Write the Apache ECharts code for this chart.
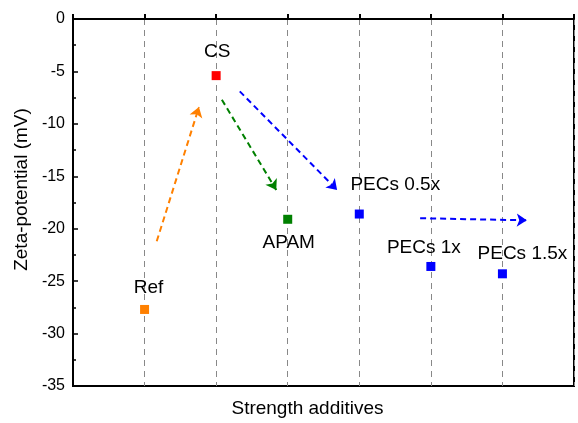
<!DOCTYPE html>
<html>
<head>
<meta charset="utf-8">
<script src="https://cdn.jsdelivr.net/npm/echarts@6/dist/echarts.min.js"></script>
<style>
  html, body { margin: 0; padding: 0; background: #fff; }
  #main { width: 578px; height: 423px; }
</style>
</head>
<body>
<div id="main"></div>
<script>
// 样品名称和位置（x 轴上的序号）
const samples = ['Ref', 'CS', 'APAM', 'PECs 0.5x', 'PECs 1x', 'PECs 1.5x'];
const positions = [1, 2, 3, 4, 5, 6];
// Zeta 电位 (mV)
const zeta = [-27.7, -5.4, -19.1, -18.6, -23.6, -24.3];
const yTicks = [0, -5, -10, -15, -20, -25, -30, -35];

// 箭头起点 / 终点（数据坐标）
const arrowFrom = [[1.17, -21.2], [2.08, -7.7], [2.33, -6.9], [4.85, -19.0]];
const arrowTo = [[1.76, -8.4], [2.84, -16.3], [3.69, -16.3], [6.34, -19.2]];

// 样式
const pointColors = ['#ff8000', '#ff0000', '#008000', '#0000ff', '#0000ff', '#0000ff'];
const arrowColors = ['#ff8000', '#008000', '#0000ff', '#0000ff'];
const labelPos = ['top', 'top', 'bottom', 'top', 'top', 'top'];
const labelOffset = [[4, -3], [1, -5], [1, 4], [36, -10], [-7, 0], [20, -1]];

const font = 'Liberation Sans, Arial, sans-serif';

let myChart = echarts.init(document.getElementById('main'));
myChart.setOption({
  animation: false,
  grid: {
    left: 73, right: 4, top: 19, bottom: 35,
    show: true,
    borderColor: '#000',
    borderWidth: 2
  },
  xAxis: {
    type: 'value',
    min: 0,
    max: 7,
    interval: 1,
    name: 'Strength additives',
    nameLocation: 'middle',
    nameGap: 13,
    nameTextStyle: { fontSize: 19, color: '#000', fontFamily: font, padding: [0, 32, 0, 0] },
    axisLine: { lineStyle: { color: '#000', width: 2 } },
    axisTick: { inside: true, length: 5, lineStyle: { color: '#000', width: 2 } },
    axisLabel: { show: false },
    splitLine: { show: true, lineStyle: { color: '#888', type: [6, 5], width: 1 } }
  },
  yAxis: {
    type: 'value',
    min: -35,
    max: 0,
    interval: 5,
    name: 'Zeta-potential (mV)',
    nameLocation: 'middle',
    nameGap: 36,
    nameTextStyle: { fontSize: 19, color: '#000', fontFamily: font, padding: [0, 0, 0, 26] },
    axisLine: { lineStyle: { color: '#000', width: 2 } },
    axisTick: { inside: true, length: 5, lineStyle: { color: '#000', width: 1.5 } },
    minorTick: { show: true, splitNumber: 2, length: 3, lineStyle: { color: '#000', width: 1.5 } },
    axisLabel: {
      color: '#000', fontSize: 16, fontFamily: font, margin: 8,
      customValues: yTicks
    },
    splitLine: { show: false }
  },
  series: [
    {
      type: 'lines',
      coordinateSystem: 'cartesian2d',
      symbol: ['none', 'arrow'],
      symbolSize: [0, 10],
      z: 3,
      data: arrowFrom.map((p, i) => ({
        coords: [p, arrowTo[i]],
        lineStyle: { color: arrowColors[i] }
      })),
      lineStyle: { width: 2, type: [6, 4], opacity: 1, curveness: 0 }
    },
    {
      type: 'scatter',
      symbol: 'rect',
      symbolSize: 9,
      z: 4,
      data: samples.map((s, i) => ({
        name: s,
        value: [positions[i], zeta[i]],
        itemStyle: { color: pointColors[i], opacity: 1 },
        label: { position: labelPos[i], offset: labelOffset[i] }
      })),
      label: {
        show: true,
        formatter: '{b}',
        color: '#000',
        fontSize: 19,
        fontFamily: font
      }
    }
  ]
});
</script>
</body>
</html>
